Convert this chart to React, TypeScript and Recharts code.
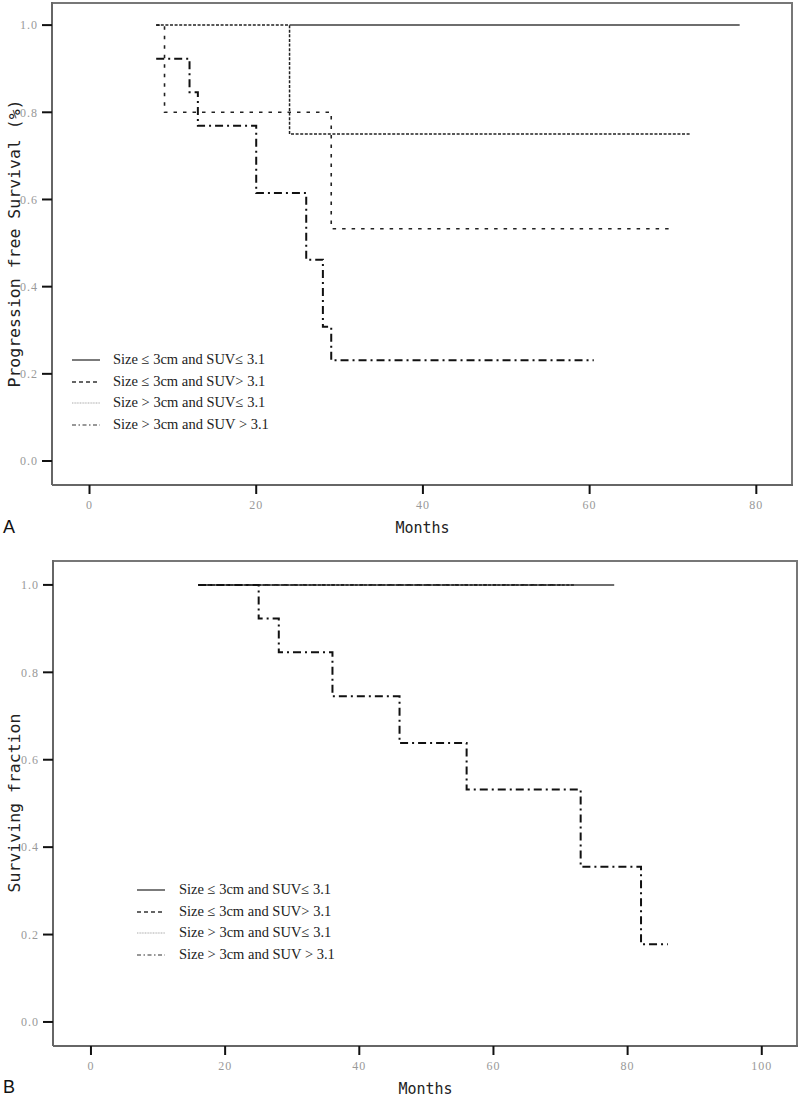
import { CartesianGrid, Legend, Line, LineChart, XAxis, YAxis } from "recharts";

// panel A - progression free survival
const tA_s1 = [24, 78];
const pA_s1 = [1, 1];
const tA_s2 = [8, 9, 29, 70];
const pA_s2 = [1, 0.8, 0.533, 0.533];
const tA_s3 = [8, 24, 72];
const pA_s3 = [1, 0.75, 0.75];
const tA_s4 = [8, 12, 13, 20, 26, 28, 29, 60.5];
const pA_s4 = [0.923, 0.846, 0.769, 0.615, 0.462, 0.308, 0.231, 0.231];

// panel B - overall survival
const tB_s1 = [16, 78];
const pB_s1 = [1, 1];
const tB_s2 = [16, 70];
const pB_s2 = [1, 1];
const tB_s3 = [16, 72];
const pB_s3 = [1, 1];
const tB_s4 = [16, 25, 28, 36, 46, 56, 73, 82, 86];
const pB_s4 = [1, 0.923, 0.846, 0.745, 0.638, 0.532, 0.355, 0.178, 0.178];

const groupNames = [
  "Size \u2264 3cm and SUV\u2264 3.1",
  "Size \u2264 3cm and SUV> 3.1",
  "Size > 3cm and SUV\u2264 3.1",
  "Size > 3cm and SUV > 3.1",
];
const yTicks = [0, 0.2, 0.4, 0.6, 0.8, 1.0];
const xTicksA = [0, 20, 40, 60, 80];
const xTicksB = [0, 20, 40, 60, 80, 100];

const zip = (t: number[], p: number[]) => t.map((v, i) => ({ t: v, s: p[i] }));

const lineStyles = [
  { stroke: "#6e6e6e", strokeWidth: 2, dash: undefined as string | undefined },
  { stroke: "#222", strokeWidth: 1.6, dash: "3.5 6" },
  { stroke: "#222", strokeWidth: 1.5, dash: "3 1.6" },
  { stroke: "#111", strokeWidth: 2, dash: "8 4 2 4" },
];
const legendStyles = [
  { stroke: "#333", strokeWidth: 1.3, dash: undefined as string | undefined },
  { stroke: "#333", strokeWidth: 1.3, dash: "4 3" },
  { stroke: "#aaa", strokeWidth: 1, dash: "1 0.6" },
  { stroke: "#333", strokeWidth: 1.2, dash: "4 2.5 1.5 2.5" },
];

function KmLegend({ textLeft }: { textLeft: number }) {
  return (
    <div style={{ fontFamily: "Liberation Serif", fontSize: 14.5, color: "#222" }}>
      {groupNames.map((name, i) => (
        <div key={name} style={{ position: "relative", height: 21.5, lineHeight: "21.5px" }}>
          <svg width={30} height={21.5} style={{ position: "absolute", left: 0, top: 0 }}>
            <line
              x1={0}
              x2={28}
              y1={11}
              y2={11}
              stroke={legendStyles[i].stroke}
              strokeWidth={legendStyles[i].strokeWidth}
              strokeDasharray={legendStyles[i].dash}
            />
          </svg>
          <span style={{ position: "absolute", left: textLeft, top: 0, whiteSpace: "nowrap" }}>{name}</span>
        </div>
      ))}
    </div>
  );
}

function YLabel(props: any) {
  const { viewBox, value } = props;
  const cy = viewBox.y + viewBox.height / 2;
  return (
    <text
      x={14}
      y={cy}
      transform={`rotate(-90 14 ${cy})`}
      textAnchor="middle"
      dominantBaseline="central"
      fontFamily="DejaVu Sans Mono"
      fontSize={16.5}
      fill="#222"
    >
      {value}
    </text>
  );
}

const tickStyle = { fill: "#999", fontSize: 12, fontFamily: "Liberation Serif", letterSpacing: 1 };

interface PanelProps {
  series: { t: number; s: number }[][];
  xDomain: [number, number];
  yDomain: [number, number];
  xTicks: number[];
  yLabel: string;
  height: number;
  margin: { top: number; right: number; bottom: number; left: number };
  yWidth: number;
  legendPos: { left: number; top: number };
  legendTextLeft: number;
}

function Panel(props: PanelProps) {
  const { series, xDomain, yDomain, xTicks, yLabel, height, margin, yWidth, legendPos, legendTextLeft } = props;
  return (
    <LineChart width={800} height={height} margin={margin}>
      {/* top and right edges of the plot box */}
      <CartesianGrid
        stroke="#777"
        strokeWidth={2}
        fill="none"
        horizontalCoordinatesGenerator={({ offset }: any) => [offset.top + 1]}
        verticalCoordinatesGenerator={({ offset }: any) => [offset.left + offset.width - 1]}
      />
      <XAxis
        dataKey="t"
        type="number"
        domain={xDomain}
        ticks={xTicks}
        allowDataOverflow
        axisLine={{ stroke: "#666", strokeWidth: 2 }}
        tickLine={{ stroke: "#111", strokeWidth: 2 }}
        tickSize={9}
        tickMargin={6}
        tick={tickStyle}
        height={30}
        label={{
          value: "Months",
          position: "bottom",
          offset: 7,
          fill: "#222",
          fontSize: 15,
          fontFamily: "DejaVu Sans Mono",
        }}
      />
      <YAxis
        type="number"
        domain={yDomain}
        ticks={yTicks}
        allowDataOverflow
        tickFormatter={(v: number) => v.toFixed(1)}
        axisLine={{ stroke: "#666", strokeWidth: 2 }}
        tickLine={{ stroke: "#111", strokeWidth: 2 }}
        tickSize={10}
        tickMargin={4}
        tick={tickStyle}
        width={yWidth}
        label={<YLabel value={yLabel} />}
      />
      {series.map((d, i) => (
        <Line
          key={groupNames[i]}
          name={groupNames[i]}
          data={d}
          dataKey="s"
          type="stepAfter"
          stroke={lineStyles[i].stroke}
          strokeWidth={lineStyles[i].strokeWidth}
          strokeDasharray={lineStyles[i].dash}
          dot={false}
          activeDot={false}
          isAnimationActive={false}
        />
      ))}
      <Legend
        layout="vertical"
        align="center"
        verticalAlign="middle"
        wrapperStyle={{ position: "absolute", left: legendPos.left, top: legendPos.top, width: 330 }}
        content={() => <KmLegend textLeft={legendTextLeft} />}
      />
    </LineChart>
  );
}

export default function App() {
  return (
    <div style={{ position: "absolute", left: 0, top: 0, width: 800, height: 1097, background: "#fff", overflow: "hidden" }}>
      <div style={{ position: "absolute", left: 0, top: 0 }}>
        <Panel
          series={[zip(tA_s1, pA_s1), zip(tA_s2, pA_s2), zip(tA_s3, pA_s3), zip(tA_s4, pA_s4)]}
          xDomain={[-4.5, 84.4]}
          yDomain={[-0.055, 1.053]}
          xTicks={xTicksA}
          yLabel="Progression free Survival (%)"
          height={540}
          margin={{ top: 2, right: 7, bottom: 25, left: 0 }}
          yWidth={52}
          legendPos={{ left: 72, top: 349 }}
          legendTextLeft={41}
        />
      </div>
      <div style={{ position: "absolute", left: 3, top: 517, fontFamily: "Liberation Sans", fontSize: 18, color: "#111" }}>A</div>
      <div style={{ position: "absolute", left: 0, top: 540 }}>
        <Panel
          series={[zip(tB_s1, pB_s1), zip(tB_s2, pB_s2), zip(tB_s3, pB_s3), zip(tB_s4, pB_s4)]}
          xDomain={[-5.66, 105.4]}
          yDomain={[-0.055, 1.057]}
          xTicks={xTicksB}
          yLabel="Surviving fraction"
          height={557}
          margin={{ top: 20, right: 2, bottom: 21, left: 0 }}
          yWidth={53}
          legendPos={{ left: 137, top: 339 }}
          legendTextLeft={42}
        />
      </div>
      <div style={{ position: "absolute", left: 3, top: 1077, fontFamily: "Liberation Sans", fontSize: 18, color: "#111" }}>B</div>
    </div>
  );
}
